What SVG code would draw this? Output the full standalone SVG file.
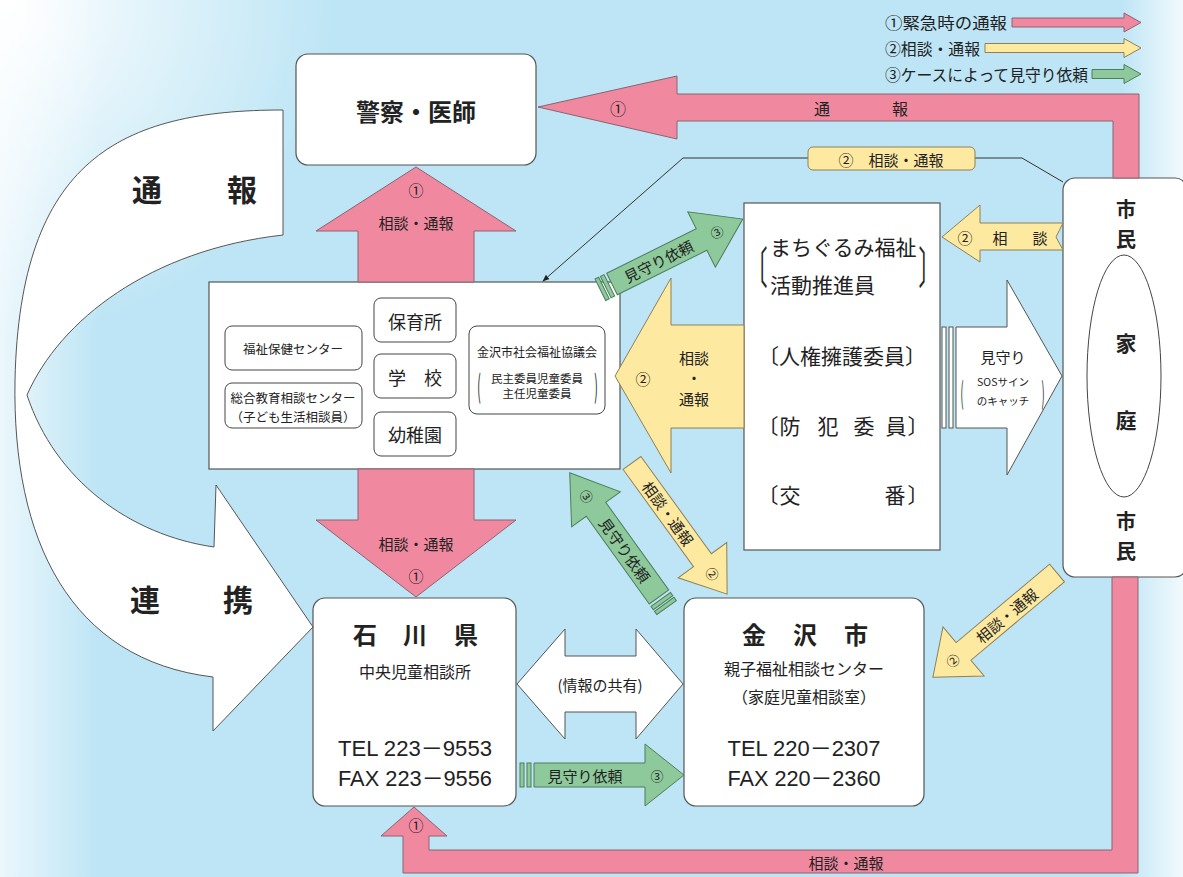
<svg xmlns="http://www.w3.org/2000/svg" width="1183" height="877" viewBox="0 0 1183 877">
<defs>
<radialGradient id="rgTL" gradientUnits="userSpaceOnUse" cx="0" cy="0" r="340">
<stop offset="0" stop-color="#fff" stop-opacity="1"/>
<stop offset="0.45" stop-color="#fff" stop-opacity="0.55"/>
<stop offset="1" stop-color="#fff" stop-opacity="0"/>
</radialGradient>
<linearGradient id="lgL" gradientUnits="userSpaceOnUse" x1="0" y1="0" x2="100" y2="0">
<stop offset="0" stop-color="#fff" stop-opacity="0.7"/>
<stop offset="1" stop-color="#fff" stop-opacity="0"/>
</linearGradient>
<linearGradient id="lgR" gradientUnits="userSpaceOnUse" x1="1120" y1="0" x2="1183" y2="0">
<stop offset="0" stop-color="#fff" stop-opacity="0"/>
<stop offset="1" stop-color="#fff" stop-opacity="0.8"/>
</linearGradient>
<marker id="ah" viewBox="0 0 10 10" refX="9" refY="5" markerWidth="7" markerHeight="7" orient="auto">
<path d="M0,1 L10,5 L0,9 Z" fill="#222"/>
</marker>
<style>
.t{font-family:"Noto Sans CJK JP","Noto Sans",sans-serif;fill:#222;text-anchor:middle;dominant-baseline:central}
.s{text-anchor:start}
.b{font-weight:bold}
.num{font-family:"Liberation Sans","Noto Sans CJK JP",sans-serif}
.box{fill:#fff;stroke:#555;stroke-width:1.2}
.ibox{fill:#fff;stroke:#444;stroke-width:1}
.pink{fill:#f0899f;stroke:#8a6470;stroke-width:1}
.yel{fill:#fde9a0;stroke:#8f8057;stroke-width:1}
.grn{fill:#8dc99b;stroke:#4f7d5d;stroke-width:1}
.wht{fill:#fff;stroke:#555;stroke-width:1}
.ln{fill:none;stroke:#333;stroke-width:1}
</style>
</defs>

<g id="background">
<rect x="0" y="0" width="1183" height="877" fill="#bde5f5"/>
<rect x="0" y="0" width="1183" height="877" fill="url(#rgTL)"/>
<rect x="0" y="0" width="110" height="877" fill="url(#lgL)"/>
<rect x="1120" y="0" width="63" height="877" fill="url(#lgR)"/>
</g>

<g id="legend">
<text class="t s" x="885" y="22" font-size="16" textLength="122" lengthAdjust="spacingAndGlyphs">①緊急時の通報</text>
<path class="pink" d="M1012,18 H1124 V13 L1141,22.5 L1124,32 V27 H1012 Z"/>
<text class="t s" x="885" y="48" font-size="16" textLength="95" lengthAdjust="spacingAndGlyphs">②相談・通報</text>
<path class="yel" d="M985,43.5 H1124 V38.5 L1141,48 L1124,57.5 V52.5 H985 Z"/>
<text class="t s" x="885" y="74" font-size="16" textLength="203" lengthAdjust="spacingAndGlyphs">③ケースによって見守り依頼</text>
<path class="grn" d="M1092,69.5 H1124 V64.5 L1141,74 L1124,83.5 V78.5 H1092 Z"/>
</g>

<g id="node-police">
<rect class="box" x="296" y="54" width="240" height="111" rx="12"/>
<text class="t b" x="416" y="110" font-size="24">警察・医師</text>
</g>

<g id="node-center">
<rect class="box" x="209" y="282" width="411" height="187"/>
<g id="node-fukushi-hoken">
<rect class="ibox" x="225" y="326" width="137" height="44" rx="7"/>
<text class="t" x="293" y="348" font-size="12.5">福祉保健センター</text>
</g>
<g id="node-sougou">
<rect class="ibox" x="225" y="383" width="137" height="45" rx="7"/>
<text class="t" x="293" y="397" font-size="12.5">総合教育相談センター</text>
<text class="t" x="293" y="416" font-size="12.5">（子ども生活相談員）</text>
</g>
<g id="node-hoikusho">
<rect class="ibox" x="374" y="298" width="82" height="44" rx="7"/>
<text class="t" x="415" y="321" font-size="18">保育所</text>
</g>
<g id="node-gakkou">
<rect class="ibox" x="374" y="354" width="82" height="44" rx="7"/>
<text class="t" x="397 433" y="377" font-size="18">学校</text>
</g>
<g id="node-youchien">
<rect class="ibox" x="374" y="412" width="82" height="44" rx="7"/>
<text class="t" x="415" y="434" font-size="18">幼稚園</text>
</g>
<g id="node-shakyo">
<rect class="ibox" x="469" y="326" width="136" height="88" rx="8"/>
<text class="t" x="537" y="351" font-size="12">金沢市社会福祉協議会</text>
<text class="t" x="537" y="378" font-size="11.5">民主委員児童委員</text>
<text class="t" x="537" y="393" font-size="11.5">主任児童委員</text>
<text class="t" transform="translate(479,385) scale(0.8,2.4)" font-size="13">(</text>
<text class="t" transform="translate(596,385) scale(0.8,2.4)" font-size="13">)</text>
</g>
</g>

<g id="node-machigurumi">
<rect class="box" x="744" y="203" width="196" height="347"/>
<text class="t" transform="translate(757,265) scale(1,2.1)" font-size="21">〔</text>
<text class="t" transform="translate(929,265) scale(1,2.1)" font-size="21">〕</text>
<text class="t s" x="770" y="246" font-size="21">まちぐるみ福祉</text>
<text class="t s" x="770" y="284" font-size="21">活動推進員</text>
<text class="t" x="842" y="355" font-size="21">〔人権擁護委員〕</text>
<text class="t" x="768 790 828 864 896 918" y="425" font-size="21">〔防犯委員〕</text>
<text class="t" x="768 790 895 918" y="494" font-size="21">〔交番〕</text>
</g>

<g id="node-shimin">
<rect class="box" x="1063" y="178" width="124" height="399" rx="12"/>
<ellipse cx="1124" cy="376" rx="37" ry="121" fill="none" stroke="#444" stroke-width="1"/>
<text class="t b" x="1126" y="208" font-size="20">市</text>
<text class="t b" x="1126" y="238" font-size="20">民</text>
<text class="t b" x="1126" y="342" font-size="21">家</text>
<text class="t b" x="1126" y="419" font-size="21">庭</text>
<text class="t b" x="1126" y="520" font-size="20">市</text>
<text class="t b" x="1126" y="550" font-size="20">民</text>
</g>

<g id="node-ishikawa">
<rect class="box" x="313" y="598" width="203" height="208" rx="12"/>
<text class="t b" x="365 415 466" y="633" font-size="24">石川県</text>
<text class="t" x="415" y="671" font-size="16">中央児童相談所</text>
<text class="t num" x="415" y="748" font-size="22" textLength="154" lengthAdjust="spacingAndGlyphs">TEL 223－9553</text>
<text class="t num" x="415" y="778" font-size="22" textLength="154" lengthAdjust="spacingAndGlyphs">FAX 223－9556</text>
</g>

<g id="node-kanazawa">
<rect class="box" x="684" y="598" width="240" height="208" rx="12"/>
<text class="t b" x="754 805 856" y="633" font-size="24">金沢市</text>
<text class="t" x="804" y="668" font-size="16">親子福祉相談センター</text>
<text class="t" x="804" y="696" font-size="16">（家庭児童相談室）</text>
<text class="t num" x="804" y="748" font-size="22" textLength="153" lengthAdjust="spacingAndGlyphs">TEL 220－2307</text>
<text class="t num" x="804" y="778" font-size="22" textLength="153" lengthAdjust="spacingAndGlyphs">FAX 220－2360</text>
</g>

<g id="connectors">
<!-- big white curved arrow: 通報 / 連携 -->
<path class="wht" d="M283,110 C120,110 20,160 15,380 C12,540 70,660 213,677 L213,731 L313,627 L216,485 L214,547 C130,535 55,480 27,395 C60,320 150,250 283,235 Z"/>
<text class="t b" x="147" y="188" font-size="30">通</text>
<text class="t b" x="242" y="188" font-size="30">報</text>
<text class="t b" x="145" y="598" font-size="30">連</text>
<text class="t b" x="238" y="598" font-size="30">携</text>

<!-- pink top: 通報 from 市民 to 警察 -->
<path class="pink" d="M538,107 L677,76 L677,94 H1139 V178 H1113 V121 H677 V139 Z"/>
<text class="t" x="618" y="108" font-size="16">①</text>
<text class="t" x="822" y="108" font-size="16">通</text>
<text class="t" x="900" y="108" font-size="16">報</text>

<!-- pink bottom: 相談・通報 from 市民 to 石川県 -->
<path class="pink" d="M414,807 L447,836 H429 V850 H1112 V577 H1138 V873 H403 V836 H381 Z"/>
<text class="t" x="416" y="824" font-size="15">①</text>
<text class="t" x="846" y="862" font-size="15">相談・通報</text>

<!-- pink up: center to police -->
<path class="pink" d="M416,167 L516,231 H474 V282 H358 V231 H316 Z"/>
<text class="t" x="416" y="189" font-size="15">①</text>
<text class="t" x="416" y="222" font-size="15">相談・通報</text>

<!-- pink down: center to ishikawa -->
<path class="pink" d="M358,469 H474 V520 H516 L416,597 L316,520 H358 Z"/>
<text class="t" x="416" y="543" font-size="15">相談・通報</text>
<text class="t" x="416" y="575" font-size="15">①</text>

<!-- yellow thin line: 相談・通報 from 市民 to center -->
<path class="ln" d="M1063,182 L1022,158 H975 M808,158 H683 L543,281" marker-end="url(#ah)"/>
<rect class="yel" x="808" y="147" width="167" height="23" rx="5"/>
<text class="t" x="891" y="159" font-size="15">②　相談・通報</text>

<!-- yellow small: 相談 from 市民 to machigurumi -->
<path class="yel" d="M942,237 L980,205 V223 H1063 L1056,237 L1063,250 H980 V262 Z"/>
<text class="t" x="965" y="237" font-size="15">②</text>
<text class="t" x="1000" y="237" font-size="15">相</text>
<text class="t" x="1040" y="237" font-size="15">談</text>

<!-- yellow big: 相談・通報 from machigurumi to center -->
<path class="yel" d="M615,376 L671,278 V325 H744 V428 H671 V473 Z"/>
<text class="t" x="643" y="378" font-size="15">②</text>
<text class="t" x="694" y="357" font-size="15">相談</text>
<text class="t" x="694" y="377" font-size="15">・</text>
<text class="t" x="694" y="398" font-size="15">通報</text>

<!-- white: 見守り SOS from machigurumi to 市民 -->
<g>
<rect class="wht" x="942" y="327" width="4" height="101"/>
<rect class="wht" x="949" y="327" width="4" height="101"/>
<path class="wht" d="M956,327 H1007 V280 L1062,376 L1007,475 V428 H956 Z"/>
<text class="t" x="1003" y="356" font-size="15">見守り</text>
<text class="t" x="1003" y="381" font-size="10.5">SOSサイン</text>
<text class="t" x="1003" y="400" font-size="10.5">のキャッチ</text>
<text class="t" transform="translate(962,390) scale(0.7,2.3)" font-size="13">(</text>
<text class="t" transform="translate(1043,390) scale(0.7,2.3)" font-size="13">)</text>
</g>

<!-- green A: 見守り依頼 center -> machigurumi -->
<g transform="translate(612,284) rotate(-26.4)">
<rect class="grn" x="-13" y="-12" width="4" height="24"/>
<rect class="grn" x="-7" y="-12" width="4" height="24"/>
<path class="grn" d="M0,-12 H100 V-31 L146,0 L100,31 V12 H0 Z"/>
<text class="t" x="52" y="0" font-size="15">見守り依頼</text>
<text class="t" x="117" y="0" font-size="13">③</text>
</g>

<!-- green B: 見守り依頼 kanazawa -> center -->
<g transform="translate(659,597) rotate(-125.7)">
<rect class="grn" x="-13" y="-12" width="4" height="24"/>
<rect class="grn" x="-7" y="-12" width="4" height="24"/>
<path class="grn" d="M0,-12 H108 V-30 L153,0 L108,30 V12 H0 Z"/>
<text class="t" transform="translate(58,0) rotate(180)" font-size="15">見守り依頼</text>
<text class="t" transform="translate(124,0) rotate(180)" font-size="13">③</text>
</g>

<!-- yellow C: 相談・通報 center -> kanazawa -->
<g transform="translate(632,463) rotate(54.05)">
<path class="yel" d="M0,-11 H120 V-30 L162,0 L120,30 V11 H0 Z"/>
<text class="t" x="62" y="0" font-size="15">相談・通報</text>
<text class="t" x="137" y="0" font-size="13">②</text>
</g>

<!-- yellow D: 相談・通報 市民 -> kanazawa -->
<g transform="translate(1057,573) rotate(140)">
<path class="yel" d="M0,-11.5 H122 V-32 L162,0 L122,32 V11.5 H0 Z"/>
<text class="t" transform="translate(66,0) rotate(180)" font-size="15">相談・通報</text>
<text class="t" transform="translate(136,0) rotate(180)" font-size="13">②</text>
</g>

<!-- white double arrow: 情報の共有 -->
<path class="wht" d="M517,684 L565,629 V656 H636 V629 L683,684 L636,739 V712 H565 V739 Z"/>
<text class="t" x="600" y="684" font-size="15">(情報の共有)</text>

<!-- green bottom: 見守り依頼 ishikawa -> kanazawa -->
<g>
<rect class="grn" x="520" y="763" width="4" height="24"/>
<rect class="grn" x="527" y="763" width="4" height="24"/>
<path class="grn" d="M534,763 H645 V744 L684,775 L645,806 V787 H534 Z"/>
<text class="t" x="585" y="775" font-size="15">見守り依頼</text>
<text class="t" x="657" y="775" font-size="13">③</text>
</g>
</g>
</svg>
